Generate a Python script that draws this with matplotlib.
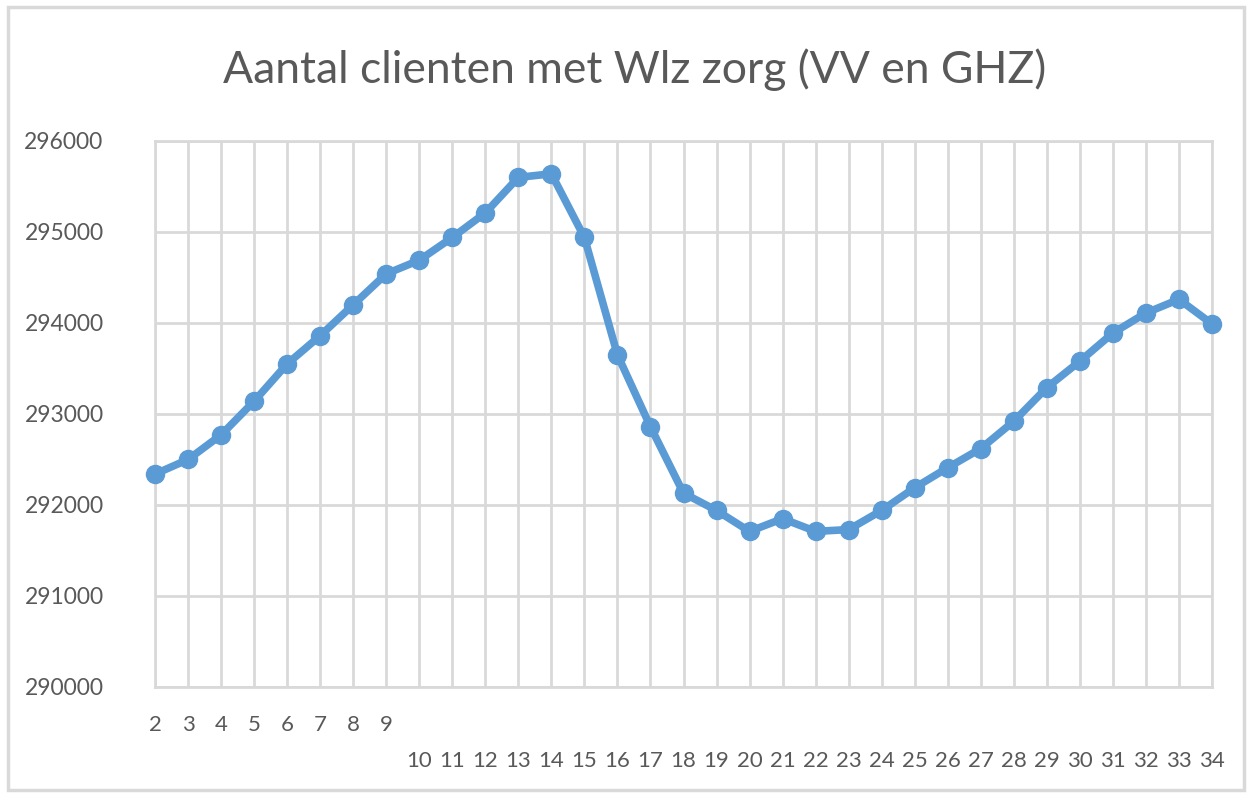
import matplotlib
matplotlib.use("Agg")
import matplotlib.pyplot as plt
from matplotlib.patches import Rectangle

plt.rcParams['font.family'] = ['Lato', 'DejaVu Sans']

weeks = list(range(2, 35))
clienten = [292340, 292500, 292770, 293140, 293550, 293860, 294200, 294540,
            294690, 294940, 295210, 295600, 295640, 294940, 293650, 292860,
            292130, 291940, 291710, 291850, 291710, 291730, 291940, 292190,
            292410, 292620, 292920, 293290, 293580, 293890, 294110, 294260,
            293990]
yticks = [290000, 291000, 292000, 293000, 294000, 295000, 296000]
title = "Aantal clienten met Wlz zorg (VV en GHZ)"

txt = '#595959'
grid = '#D9D9D9'
blue = '#5B9BD5'

fig = plt.figure(figsize=(12.51, 7.97), dpi=100)
fig.patch.set_facecolor('white')
# outer chart frame
fig.add_artist(Rectangle((8/1251, 7/797), 1236/1251, 783/797, transform=fig.transFigure,
                         fill=False, edgecolor='#D9D9D9', linewidth=2.5))

ax = fig.add_axes([155/1251, 1 - 687/797, (1212 - 155)/1251, (687 - 141)/797])
ax.plot(weeks, clienten, color=blue, linewidth=5.5, marker='o', markersize=13,
        zorder=3, clip_on=False)

ax.set_xlim(2, 34)
ax.set_ylim(290000, 296000)
ax.set_yticks(yticks)
ax.set_yticklabels([str(v) for v in yticks])
ax.set_xticks(weeks)
ax.set_xticklabels([str(w) if w < 10 else '\n' + str(w) for w in weeks], linespacing=2.0)

ax.grid(True, color=grid, linewidth=2)
ax.set_axisbelow(True)
for s in ax.spines.values():
    s.set_color(grid)
    s.set_linewidth(2)
ax.tick_params(length=0, colors=txt)
ax.tick_params(axis='y', labelsize=16.5, pad=37)
ax.tick_params(axis='x', labelsize=16, pad=20)

fig.text(635/1251, 1 - 70/797, title, ha='center', va='center', fontsize=32, color=txt)

fig.savefig('out.png', dpi=100)
